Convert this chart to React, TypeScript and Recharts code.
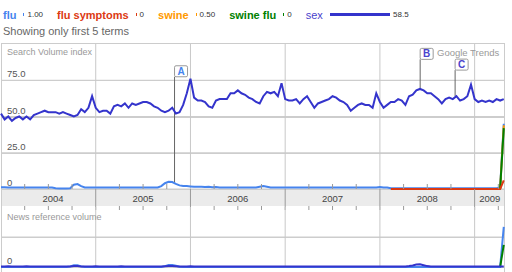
import React from 'react';
import { LineChart, Line, XAxis, YAxis, ReferenceLine, ReferenceDot } from 'recharts';

// two samples per month, starting Jan 2004
const START_YEAR = 2004;
const STEPS_PER_YEAR = 26;

const sexSearch = [
  52, 48, 50, 47, 49, 50, 48, 50, 48, 51,
  52, 53, 54, 53, 53, 53, 52, 53, 52, 51,
  50, 51, 55, 53, 56, 64, 56, 53, 54, 54,
  52, 57, 58, 57, 59, 56, 59, 58, 59, 60,
  60, 59, 57, 56, 54, 53, 54, 56, 52, 53,
  58, 66, 76, 63, 61, 61, 60, 57, 56, 61,
  62, 62, 62, 66, 66, 68, 66, 65, 63, 62,
  60, 59, 64, 67, 66, 67, 64, 73, 62, 61,
  61, 62, 59, 62, 64, 60, 56, 59, 60, 61,
  62, 64, 63, 61, 60, 58, 54, 56, 58, 59,
  58, 58, 56, 66, 60, 56, 58, 60, 60, 62,
  61, 58, 64, 65, 68, 69, 68, 66, 66, 64,
  62, 59, 62, 63, 62, 64, 61, 62, 64, 72,
  62, 60, 61, 60, 61, 60, 62, 61, 62,
];

const fluSearch = [
  1.2, 1.2, 1, 1, 1, 1, 1, 1, 1, 1,
  1, 1, 1, 1, 1, 0.5, 0.3, 0.3, 0.3, 0.5,
  3, 3.4, 2, 1, 1, 1, 1, 1, 1, 1,
  1, 1, 1, 1, 1, 1, 1, 1, 1, 1,
  1, 1, 1, 1, 2, 4, 5, 4.8, 3.5, 2.5,
  2, 2, 1.8, 1.5, 1.5, 1.6, 1.4, 1.5, 1.2, 1.3,
  1, 1, 1, 1, 1, 1, 1, 1, 1, 1,
  1, 1.5, 2, 1.5, 1, 1, 1, 1, 1, 1,
  1, 1, 1, 1, 1, 1, 1, 1, 1, 1,
  1, 1, 1, 1, 1, 1, 1, 1, 1, 1,
  1, 1, 1, 1, 1.3, 1, 1, 0.5, 0.5, 0.5,
  0.5, 0.5, 0.5, 0.5, 0.5, 0.5, 0.5, 0.5, 0.5, 0.5,
  0.5, 0.5, 0.5, 0.5, 0.5, 0.5, 0.5, 0.5, 0.5, 0.5,
  0.5, 0.5, 0.5, 0.5, 0.5, 0.5, 0.5, 1, 45,
];

// short series, with the sample index where each begins
const fluSymptomsStart = 107;
const fluSymptomsSearch = [
  0, 0, 0, 0, 0, 0, 0, 0, 0, 0,
  0, 0, 0, 0, 0, 0, 0, 0, 0, 0,
  0, 0, 0, 0, 0, 0, 0, 0, 0, 0,
  0, 6,
];
const swineStart = 137;
const swineSearch = [0, 44];
const swineFluStart = 137;
const swineFluSearch = [0, 42];

const sexNews = [
  1, 1, 1.2, 1, 0.8, 1, 1, 1.2, 1, 1,
  1, 0.8, 1, 1, 1, 1, 1, 0.8, 1, 1,
  1.5, 1.5, 1, 1, 1, 1, 1.2, 1, 1, 1,
  1, 1, 1, 1.2, 1, 1, 1, 1, 1, 1,
  1, 1, 1, 1, 1, 1.2, 1.5, 1.5, 1.2, 1,
  1, 1, 1.2, 1, 1, 1, 1, 1, 1, 1,
  1, 1, 1, 1, 1, 1, 1, 1, 1, 1,
  1, 1, 1, 1, 1, 1, 1, 1, 1, 1,
  1, 1, 1, 1, 1, 1, 1, 1, 1, 1,
  1, 1, 1, 1, 1, 1, 1, 1, 1, 1,
  1, 1, 1, 1, 1, 1, 1, 1, 1, 1,
  1, 1, 1.5, 2.5, 4, 4.5, 3, 1.5, 1, 1,
  1, 1, 1, 1, 1, 1, 1, 1, 1, 1,
  1, 1, 1, 1, 1, 1, 1, 1, 1,
];
const fluNews = [
  0, 0, 0, 0, 0, 0, 0, 0, 0, 0,
  0, 0, 0, 0, 0, 0, 0, 0, 0, 1,
  3, 3, 1, 0, 0, 0, 0, 0, 0, 0,
  0, 0, 0, 0, 0, 0, 0, 0, 0, 0,
  0, 0, 0, 0, 0, 1.5, 3.5, 3.5, 2, 0.5,
  0, 0, 0, 0, 0, 0, 0, 0, 0, 0,
  0, 0, 0, 0, 0, 0, 0, 0, 0, 0,
  0, 0, 0, 0, 0, 0, 0, 0, 0, 0,
  0, 0, 0, 0, 0, 0, 0, 0, 0, 0,
  0, 0, 0, 0, 0, 0, 0, 0, 0, 0,
  0, 0, 0, 0, 0, 0, 0, 0, 0, 0,
  0, 0, 0, 0, 0, 0, 0, 0, 0, 0,
  0, 0, 0, 0, 0, 0, 0, 0, 0, 0,
  0, 0, 0, 0, 0, 0, 0, 0, 67,
];
const swineFluNewsStart = 137;
const swineFluNews = [0, 37];

const legendTerms = ['flu', 'flu symptoms', 'swine', 'swine flu', 'sex'];
const legendAverages = [1.0, 0, 0.5, 0, 58.5];
const legendValueLabels = ['1.00', '0', '0.50', '0', '58.5'];
const termColors = ['#4684ee', '#dc3912', '#ff9900', '#008000', '#4942cc'];
const lineColors = ['#4684ee', '#dc3912', '#ff9900', '#008000', '#3434cc'];

const yearStarts = [2005, 2006, 2007, 2008, 2009];
const yearLabels = ['2004', '2005', '2006', '2007', '2008', '2009'];
const yearLabelPos = [2004.55, 2005.5, 2006.5, 2007.5, 2008.5, 2009.16];
const quarterTicks = [
  2004.25, 2004.5, 2004.75, 2005.25, 2005.5, 2005.75, 2006.25, 2006.5, 2006.75,
  2007.25, 2007.5, 2007.75, 2008.25, 2008.5, 2008.75, 2009.25,
];
const searchTicks = [0, 25, 50, 75];
const searchTickLabels = ['0', '25.0', '50.0', '75.0'];
const newsTicks = [0, 50];
const newsTickLabels = ['0', ''];

const flagLetters = ['A', 'B', 'C'];
const flagTimes = [2005.832, 2008.425, 2008.794];
const flagTops = [77.4, 89.4, 82];
const flagBases = [4.5, 69, 64];
const flagColors = ['#4684ee', '#4942cc', '#4942cc'];

const X_DOMAIN: [number, number] = [2004, 2009.31];
const FONT = 'Arial, "Liberation Sans", Helvetica, sans-serif';
const GRID = '#cdcdcd';
// plot area edges, same as the chart margins below
const PLOT_LEFT = 1;
const PLOT_RIGHT = 504;

const pick = (arr: number[], start: number, i: number) => (i >= start ? arr[i - start] : null);

const searchData = sexSearch.map((sex, i) => ({
  t: START_YEAR + i / STEPS_PER_YEAR,
  flu: fluSearch[i],
  flusym: pick(fluSymptomsSearch, fluSymptomsStart, i),
  swine: pick(swineSearch, swineStart, i),
  swineflu: pick(swineFluSearch, swineFluStart, i),
  sex,
}));

const newsData = sexNews.map((sex, i) => ({
  t: START_YEAR + i / STEPS_PER_YEAR,
  flu: fluNews[i],
  swineflu: pick(swineFluNews, swineFluNewsStart, i),
  sex,
}));

const allXTicks = Array.from(new Set([...quarterTicks, ...yearStarts, ...yearLabelPos])).sort((a, b) => a - b);

const YearTick = (props: any) => {
  const { x, y, payload } = props;
  const v = payload.value;
  const li = yearLabelPos.indexOf(v);
  return (
    <g>
      {quarterTicks.includes(v) && (
        <>
          <line x1={x} x2={x} y1={y - 5} y2={y} stroke="#999" />
          <line x1={x} x2={x} y1={y + 17} y2={y + 21} stroke="#999" />
        </>
      )}
      {yearStarts.includes(v) && <line x1={x} x2={x} y1={y} y2={y + 21} stroke="#999" />}
      {li >= 0 && (
        <text x={x} y={y + 13} textAnchor="middle" fontSize={9.5} fill="#444" fontFamily={FONT}>
          {yearLabels[li]}
        </text>
      )}
    </g>
  );
};

// grid line and its value label, drawn from the reference line's viewBox
const gridLabel = (text: string) => (p: any) => {
  const vb = p.viewBox || {};
  const ok = Number.isFinite(vb.x) && vb.width > 10;
  const x1 = ok ? vb.x : PLOT_LEFT;
  const x2 = ok ? vb.x + vb.width : PLOT_RIGHT;
  const gy = Math.round(vb.y) + 0.5;
  return (
    <g>
      <line x1={x1} x2={x2} y1={gy} y2={gy} stroke={GRID} strokeWidth={1} />
      <text x={7} y={vb.y - 3} fontSize={9.5} fill="#555" fontFamily={FONT}>
        {text}
      </text>
    </g>
  );
};

const flagShape = (letter: string, color: string) => (p: any) => (
  <g>
    <rect x={p.cx} y={p.cy - 11} width={13} height={11} rx={1.5} fill="#fff" stroke="#999" />
    <text x={p.cx + 6.5} y={p.cy - 2} textAnchor="middle" fontSize={10} fontWeight="bold" fill={color} fontFamily={FONT}>
      {letter}
    </text>
  </g>
);

const gridLines = (ticks: number[], labels: string[]) =>
  ticks.map((v, k) => (
    <ReferenceLine key={'h' + v} y={v} stroke={GRID} ifOverflow="visible" label={gridLabel(labels[k])} />
  ));

const yearLines = () =>
  yearStarts.map((yr) => <ReferenceLine key={yr} x={yr} stroke="#c8c8c8" />);

const App: React.FC = () => {
  return (
    <div style={{ position: 'absolute', left: 0, top: 0, width: 512, height: 272, background: '#fff', overflow: 'hidden', fontFamily: FONT }}>
      <div style={{ position: 'absolute', left: 3, top: 8, height: 13, display: 'flex', alignItems: 'center', whiteSpace: 'nowrap' }}>
        {legendTerms.map((term, k) => (
          <React.Fragment key={term}>
            <span style={{ fontSize: 11, fontWeight: k === 4 ? 'normal' : 'bold', color: termColors[k] }}>{term}</span>
            <span style={{ display: 'inline-block', width: Math.max(1, legendAverages[k] * 1.03), height: 3, background: lineColors[k], marginLeft: 7 }} />
            <span style={{ fontSize: 8, color: '#333', marginLeft: 3, marginRight: 14 }}>{legendValueLabels[k]}</span>
          </React.Fragment>
        ))}
      </div>
      <div style={{ position: 'absolute', left: 3, top: 25, fontSize: 11, lineHeight: '13px', color: '#666' }}>
        Showing only first 5 terms
      </div>

      {/* frame and date band */}
      <div style={{ position: 'absolute', left: 1, top: 43, width: 504, height: 240, border: '1px solid #ccc', boxSizing: 'border-box' }} />
      <div style={{ position: 'absolute', left: 2, top: 190, width: 502, height: 16, background: '#ebebeb' }} />

      <div style={{ position: 'absolute', left: 0, top: 44 }}>
        <LineChart width={512} height={166} data={searchData} margin={{ top: 0, right: 512 - PLOT_RIGHT, left: PLOT_LEFT, bottom: 0 }}>
          <XAxis
            dataKey="t"
            type="number"
            domain={X_DOMAIN}
            ticks={allXTicks}
            interval={0}
            height={21}
            tickSize={0}
            tickMargin={0}
            axisLine={false}
            tickLine={false}
            tick={YearTick}
          />
          <YAxis type="number" domain={[0, 100]} hide />
          {gridLines(searchTicks, searchTickLabels)}
          {yearLines()}
          {flagLetters.map((f, k) => (
            <ReferenceLine
              key={'stem' + f}
              segment={[{ x: flagTimes[k], y: flagBases[k] }, { x: flagTimes[k], y: flagTops[k] }]}
              stroke="#666"
              ifOverflow="visible"
            />
          ))}
          <Line dataKey="flu" stroke={lineColors[0]} strokeWidth={2} dot={false} isAnimationActive={false} />
          <Line dataKey="swine" stroke={lineColors[2]} strokeWidth={2} dot={false} isAnimationActive={false} />
          <Line dataKey="swineflu" stroke={lineColors[3]} strokeWidth={2} dot={false} isAnimationActive={false} />
          <Line dataKey="flusym" stroke={lineColors[1]} strokeWidth={2} dot={false} isAnimationActive={false} />
          <Line dataKey="sex" stroke={lineColors[4]} strokeWidth={2} dot={false} isAnimationActive={false} />
          {flagLetters.map((f, k) => (
            <ReferenceDot key={'flag' + f} x={flagTimes[k]} y={flagTops[k]} ifOverflow="visible" shape={flagShape(f, flagColors[k])} />
          ))}
        </LineChart>
      </div>

      <div style={{ position: 'absolute', left: 0, top: 207 }}>
        <LineChart width={512} height={65} data={newsData} margin={{ top: 0, right: 512 - PLOT_RIGHT, left: PLOT_LEFT, bottom: 5 }}>
          <XAxis dataKey="t" type="number" domain={X_DOMAIN} hide />
          <YAxis type="number" domain={[0, 100]} hide />
          {gridLines(newsTicks, newsTickLabels)}
          {yearLines()}
          <Line dataKey="flu" stroke={lineColors[0]} strokeWidth={2} dot={false} isAnimationActive={false} />
          <Line dataKey="swineflu" stroke={lineColors[3]} strokeWidth={2} dot={false} isAnimationActive={false} />
          <Line dataKey="sex" stroke={lineColors[4]} strokeWidth={2} dot={false} isAnimationActive={false} />
        </LineChart>
      </div>

      <div style={{ position: 'absolute', left: 7, top: 47, fontSize: 9, lineHeight: '11px', color: '#999' }}>Search Volume index</div>
      <div style={{ position: 'absolute', left: 437, top: 47, fontSize: 9.5, lineHeight: '11px', color: '#999' }}>Google Trends</div>
      <div style={{ position: 'absolute', left: 7, top: 212, fontSize: 9, lineHeight: '11px', color: '#999' }}>News reference volume</div>
    </div>
  );
};

export default App;
